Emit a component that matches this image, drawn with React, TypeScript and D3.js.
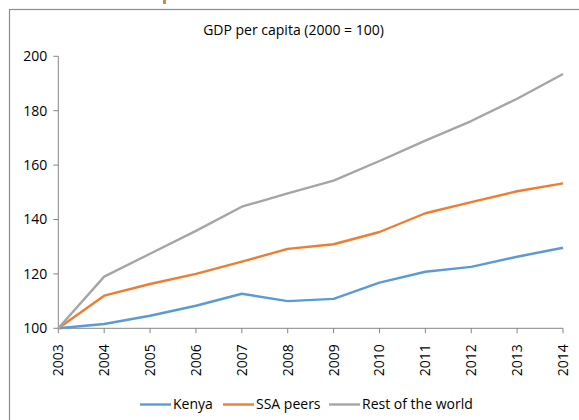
import React, { useEffect, useRef } from "react";
import * as d3 from "d3";

const years: string[] = ["2003", "2004", "2005", "2006", "2007", "2008", "2009", "2010", "2011", "2012", "2013", "2014"];
const kenya: number[] = [100, 101.6, 104.6, 108.3, 112.7, 110.0, 110.8, 116.8, 120.8, 122.6, 126.3, 129.6];
const ssaPeers: number[] = [100, 112.0, 116.3, 120.0, 124.5, 129.2, 130.9, 135.4, 142.3, 146.4, 150.4, 153.3];
const restOfWorld: number[] = [100, 119.0, 127.4, 135.8, 144.7, 149.6, 154.3, 161.5, 169.0, 176.2, 184.4, 193.5];
const yTicks: number[] = [100, 120, 140, 160, 180, 200];
const seriesNames: string[] = ["Kenya", "SSA peers", "Rest of the world"];

const colors: string[] = ["#5B9BD5", "#ED7D31", "#A5A5A5"];
const font = "'Open Sans', 'Liberation Sans', sans-serif";

const App: React.FC = () => {
  const ref = useRef<SVGSVGElement>(null);

  useEffect(() => {
    if (!ref.current) return;
    const width = 579;
    const height = 420;
    const svg = d3.select(ref.current);
    svg.selectAll("*").remove();
    svg.attr("width", width).attr("height", height);

    svg.append("rect").attr("width", width).attr("height", height).attr("fill", "#fff");

    // chart frame (cut off at right and bottom)
    svg
      .append("rect")
      .attr("x", 9.5)
      .attr("y", 9.5)
      .attr("width", width + 10)
      .attr("height", height + 10)
      .attr("fill", "none")
      .attr("stroke", "#8c8c8c")
      .attr("stroke-width", 1.2);

    // clipped orange fragment at the top
    svg.append("rect").attr("x", 163).attr("y", 0).attr("width", 3).attr("height", 4).attr("fill", "#c98a55");

    const x = d3.scalePoint<string>().domain(years).range([58.3, 563]);
    const y = d3.scaleLinear().domain([100, 200]).range([328.3, 56.3]);

    // title
    svg
      .append("text")
      .attr("x", 293.5)
      .attr("y", 30)
      .attr("dy", "0.35em")
      .attr("text-anchor", "middle")
      .style("font-family", font)
      .style("font-size", "14px")
      .attr("fill", "#000")
      .text("GDP per capita (2000 = 100)");

    const axisColor = "#868686";

    // y axis
    const gy = svg.append("g").attr("transform", `translate(${x(years[0])},0)`);
    gy.append("line").attr("y1", y(100)).attr("y2", y(200)).attr("stroke", axisColor);
    gy.selectAll("g.tick")
      .data(yTicks)
      .enter()
      .append("g")
      .each(function (d) {
        const g = d3.select(this);
        g.append("line").attr("x1", -5).attr("x2", 0).attr("y1", y(d)).attr("y2", y(d)).attr("stroke", axisColor);
        g.append("text")
          .attr("x", -11)
          .attr("y", y(d))
          .attr("dy", "0.35em")
          .attr("text-anchor", "end")
          .style("font-family", font)
          .style("font-size", "14px")
          .attr("fill", "#000")
          .text(String(d));
      });

    // x axis
    const gx = svg.append("g").attr("transform", `translate(0,${y(100)})`);
    gx.append("line")
      .attr("x1", x(years[0])!)
      .attr("x2", x(years[years.length - 1])!)
      .attr("stroke", axisColor);
    years.forEach((yr) => {
      const px = x(yr)!;
      gx.append("line").attr("x1", px).attr("x2", px).attr("y1", 0).attr("y2", 5).attr("stroke", axisColor);
      gx.append("text")
        .attr("transform", `translate(${px + 5},16) rotate(-90)`)
        .attr("text-anchor", "end")
        .style("font-family", font)
        .style("font-size", "14px")
        .attr("fill", "#000")
        .text(yr);
    });

    // lines
    const line = d3
      .line<number>()
      .x((_, i) => x(years[i])!)
      .y((d) => y(d));
    [kenya, ssaPeers, restOfWorld].forEach((s, i) => {
      svg
        .append("path")
        .datum(s)
        .attr("d", line)
        .attr("fill", "none")
        .attr("stroke", colors[i])
        .attr("stroke-width", 2.4)
        .attr("stroke-linejoin", "round");
    });

    // legend
    const legendX = [140, 223, 329];
    const ly = 404.5;
    seriesNames.forEach((name, i) => {
      svg
        .append("line")
        .attr("x1", legendX[i])
        .attr("x2", legendX[i] + 31)
        .attr("y1", ly)
        .attr("y2", ly)
        .attr("stroke", colors[i])
        .attr("stroke-width", 2.4);
      svg
        .append("text")
        .attr("x", legendX[i] + 33)
        .attr("y", ly)
        .attr("dy", "0.35em")
        .style("font-family", font)
        .style("font-size", "14px")
        .attr("fill", "#000")
        .text(name);
    });
  }, []);

  return (
    <div style={{ position: "absolute", left: 0, top: 0 }}>
      <svg ref={ref} style={{ display: "block" }} />
    </div>
  );
};

export default App;
